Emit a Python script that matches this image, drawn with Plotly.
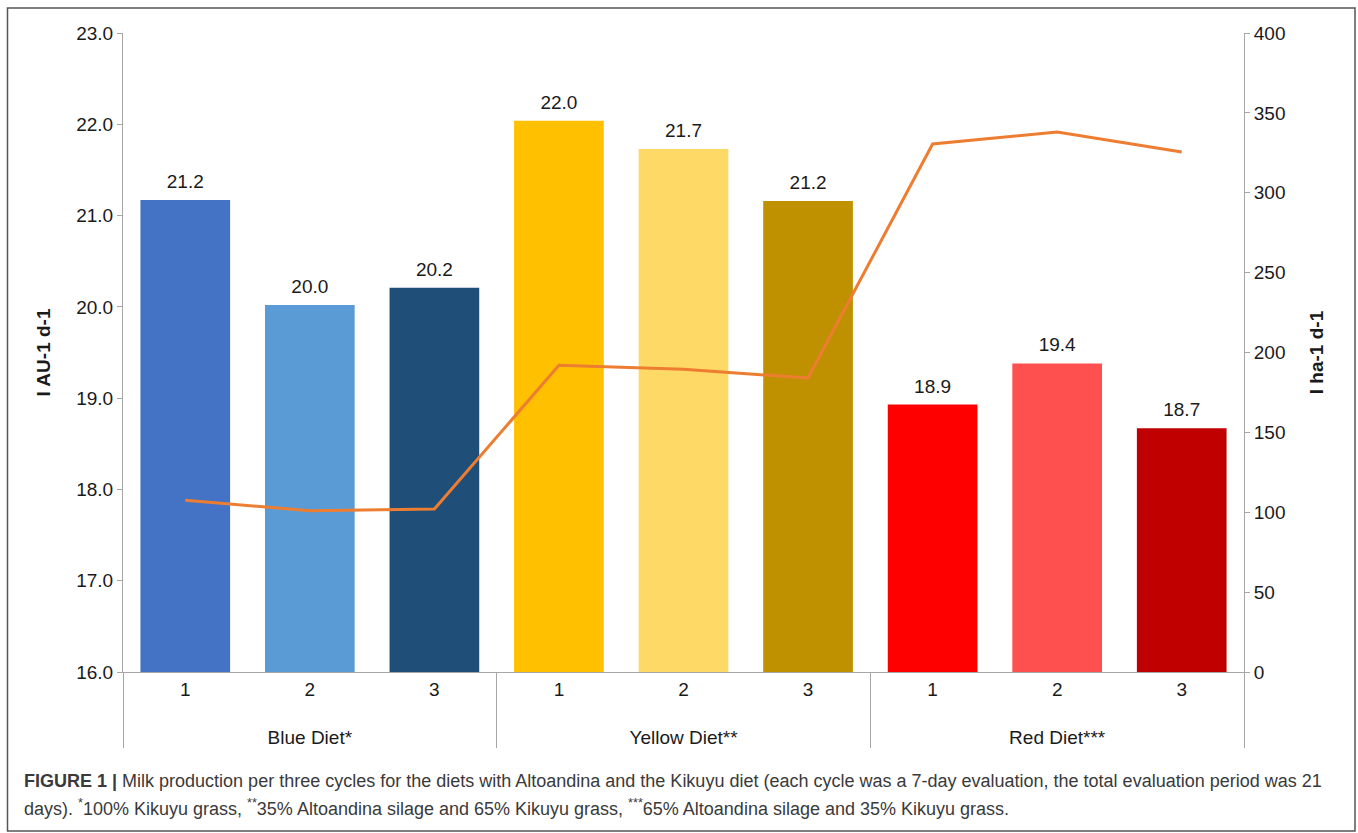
import plotly.graph_objects as go

groups = ["Blue Diet*"] * 3 + ["Yellow Diet**"] * 3 + ["Red Diet***"] * 3
cycles = ["1", "2", "3"] * 3
milk_per_au = [21.17, 20.02, 20.21, 22.04, 21.73, 21.16, 18.93, 19.38, 18.67]
milk_per_ha = [107.5, 101.0, 102.0, 192.0, 189.5, 184.0, 330.5, 338.0, 325.5]
bar_colors = ["#4472C4", "#5B9BD5", "#1F4E79",
              "#FFC000", "#FFD966", "#BF9000",
              "#FF0000", "#FF5050", "#C00000"]

caption1 = ("<b>FIGURE 1 |</b> Milk production per three cycles for the diets with Altoandina and the Kikuyu diet "
            "(each cycle was a 7-day evaluation, the total evaluation period was 21")
caption2 = ("days). <sup>*</sup>100% Kikuyu grass, <sup>**</sup>35% Altoandina silage and 65% Kikuyu grass, "
            "<sup>***</sup>65% Altoandina silage and 35% Kikuyu grass.")

FONT = "Liberation Sans, Arial, sans-serif"
AXIS_GRAY = "#A6A6A6"
TXT = "#1a1a1a"

# group labels are pushed one line down (leading blank line) to match the reference spacing
x_cats = [["&nbsp;<br>" + g for g in groups], cycles]

fig = go.Figure()
fig.add_trace(go.Bar(
    x=x_cats, y=milk_per_au,
    marker=dict(color=bar_colors, line=dict(width=0)),
    showlegend=False, hoverinfo="y",
))
fig.add_trace(go.Scatter(
    x=x_cats, y=milk_per_au,
    mode="markers+text",
    marker=dict(size=10, opacity=0),
    text=[f"{v:.1f}" for v in milk_per_au],
    textposition="top center",
    textfont=dict(size=19, color=TXT, family=FONT),
    showlegend=False, hoverinfo="skip",
))
fig.add_trace(go.Scatter(
    x=x_cats, y=milk_per_ha, yaxis="y2",
    mode="lines", line=dict(color="#ED7D31", width=3),
    showlegend=False,
))

W, H = 1358, 833
L, R, T, B = 123, 1244, 33, 672
pw, ph = R - L, B - T

def px(x):
    return (x - L) / pw

def py(y):
    return (B - y) / ph

cap_font = dict(size=18, color="#3a3a3a", family=FONT)

fig.update_layout(
    width=W, height=H,
    margin=dict(l=L, r=W - R, t=T, b=H - B),
    paper_bgcolor="white", plot_bgcolor="white",
    font=dict(family=FONT, size=19, color=TXT),
    bargap=0.28,
    xaxis=dict(
        type="multicategory", range=[-0.5, 8.5], autorange=False,
        showline=True, linecolor=AXIS_GRAY, linewidth=1,
        ticks="outside", ticklen=5, tickcolor="rgba(0,0,0,0)", showgrid=False,
        showdividers=True, dividercolor=AXIS_GRAY, dividerwidth=1,
        tickfont=dict(size=19, color=TXT),
    ),
    yaxis=dict(
        range=[16, 23], dtick=1, tickformat=".1f",
        showline=True, linecolor=AXIS_GRAY, linewidth=1,
        ticks="outside", ticklen=5, tickcolor=AXIS_GRAY,
        showgrid=False, zeroline=False,
        title=dict(text="<b>l AU-1 d-1</b>", font=dict(size=19), standoff=20),
    ),
    yaxis2=dict(
        range=[0, 400], dtick=50, overlaying="y", side="right",
        showline=True, linecolor=AXIS_GRAY, linewidth=1,
        ticks="outside", ticklen=5, tickcolor=AXIS_GRAY,
        showgrid=False, zeroline=False,
        title=dict(text="<b>l ha-1 d-1</b>", font=dict(size=19), standoff=25),
    ),
    shapes=[dict(type="rect", xref="paper", yref="paper",
                 x0=px(7.5), x1=px(1355), y0=py(831), y1=py(8),
                 line=dict(color="#555555", width=1.5), layer="below")],
    annotations=[
        dict(text=caption1, xref="paper", yref="paper", x=px(22), y=py(781),
             xanchor="left", yanchor="middle", showarrow=False, align="left",
             font=cap_font),
        dict(text=caption2, xref="paper", yref="paper", x=px(22), y=py(807),
             xanchor="left", yanchor="middle", showarrow=False, align="left",
             font=cap_font),
    ],
)

fig.write_html("out.html")
